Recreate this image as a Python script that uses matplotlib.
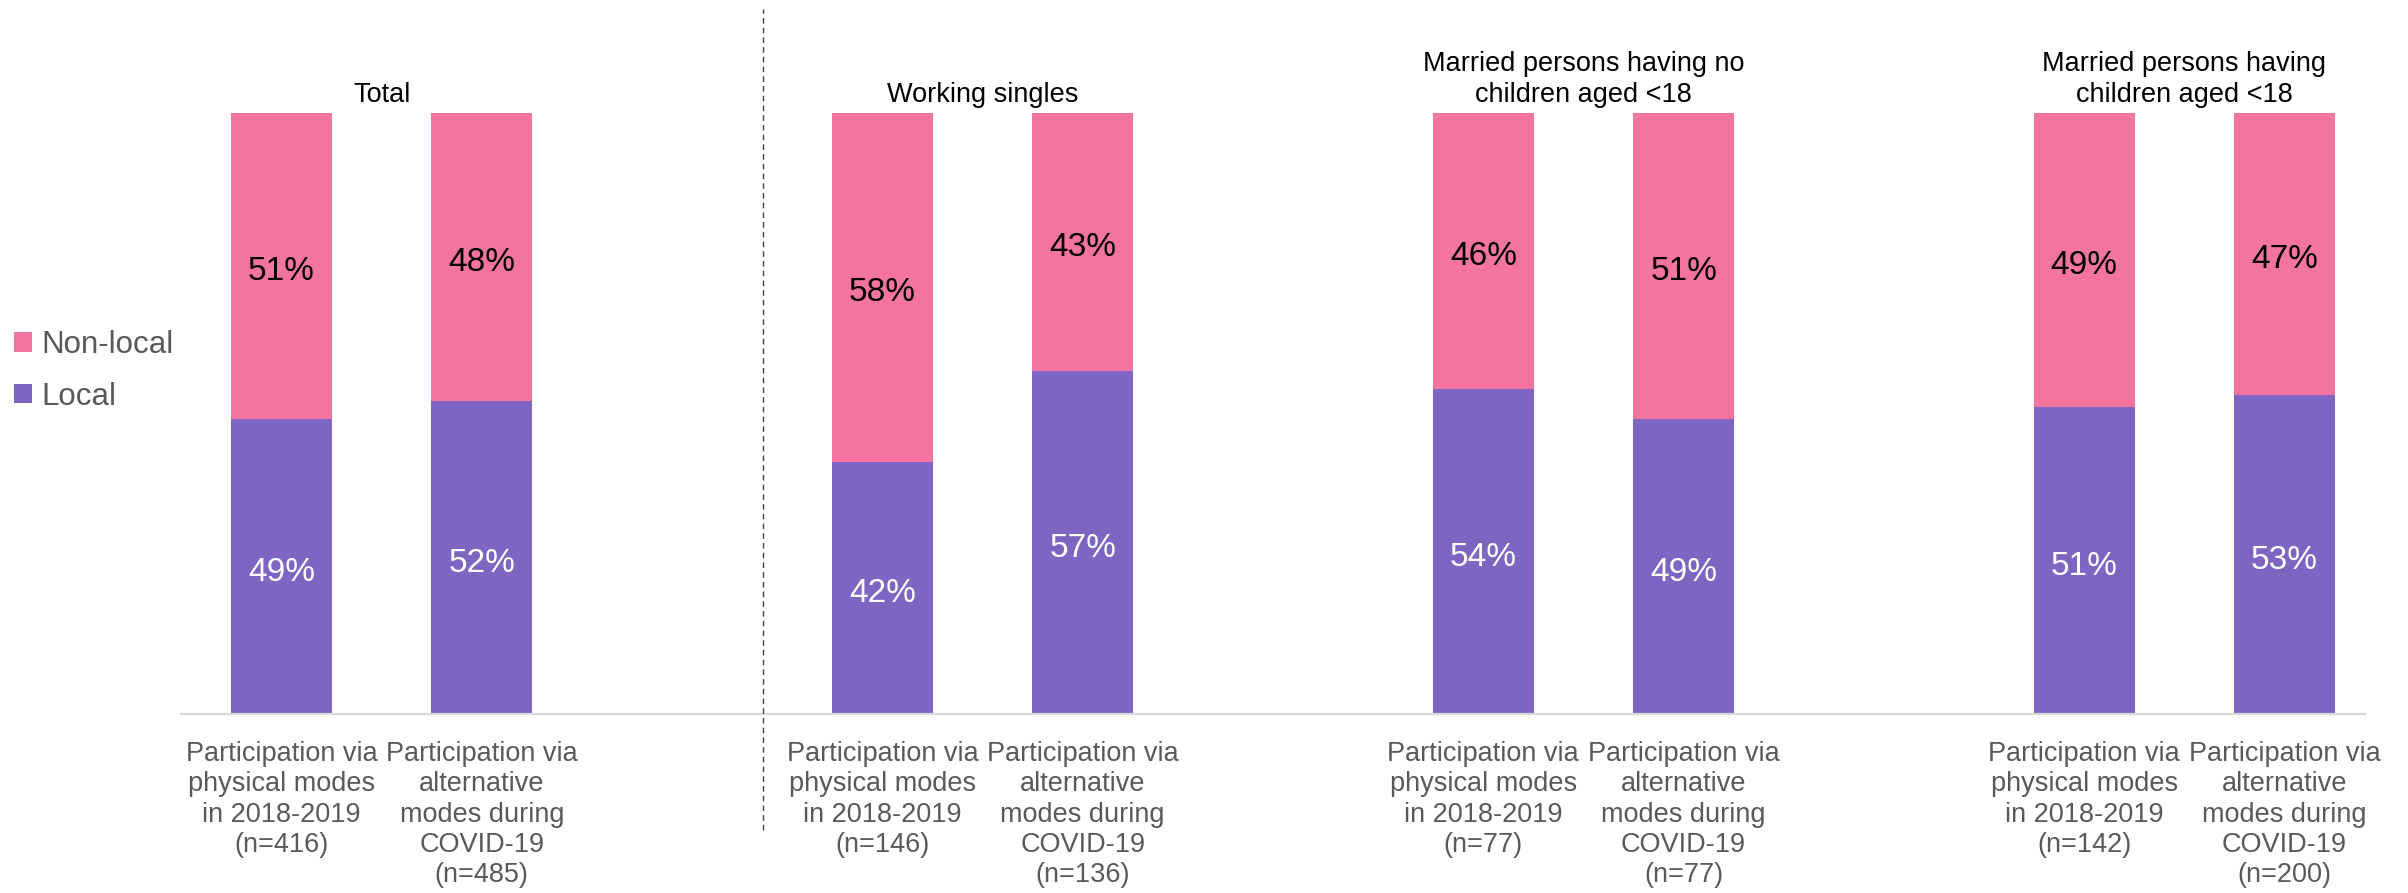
import numpy as np
from matplotlib import pyplot as plt
from matplotlib.lines import Line2D

plt.rcParams['font.family'] = ['Liberation Sans', 'DejaVu Sans']

# groups and bars
groups = ["Total", "Working singles",
          "Married persons having no\nchildren aged <18",
          "Married persons having\nchildren aged <18"]
n_physical = [416, 146, 77, 142]
n_alternative = [485, 136, 77, 200]

local = [49, 52, 42, 57, 54, 49, 51, 53]          # % local, per bar
nonlocal_ = [51, 48, 58, 43, 46, 51, 49, 47]      # % non-local, per bar

pink = "#F374A1"
purple = "#7E65C1"
gray_txt = "#595959"

labels = []
for a, b in zip(n_physical, n_alternative):
    labels.append("Participation via\nphysical modes\nin 2018-2019\n(n={})".format(a))
    labels.append("Participation via\nalternative\nmodes during\nCOVID-19\n(n={})".format(b))

# two bars per group, one empty slot between groups
xpos = np.array([g * 3 + b for g in range(len(groups)) for b in range(2)])

fig = plt.figure(figsize=(24.08, 8.93), dpi=100)
ax = fig.add_axes([0.0753, 0.2, 0.9067, 0.674])

w = 0.505
b1 = ax.bar(xpos, local, w, color=purple, label="Local")
b2 = ax.bar(xpos, nonlocal_, w, bottom=local, color=pink, label="Non-local")

anns = ax.bar_label(b1, labels=["{}%".format(v) for v in local], label_type="center",
                    color="white", fontsize=24)
anns += ax.bar_label(b2, labels=["{}%".format(v) for v in nonlocal_], label_type="center",
                     color="black", fontsize=24)
for a in anns:
    a.xyann = (0, -4)

# group titles above bars
for g, title in enumerate(groups):
    ax.annotate(title, (g * 3 + 0.5, 100), xytext=(0, 3), textcoords="offset points",
                ha="center", va="bottom", fontsize=19.5, color="black",
                linespacing=1.28, annotation_clip=False)

ax.set_xlim(-0.5, 10.4)
ax.set_ylim(0, 100)
ax.set_xticks(xpos)
ax.set_xticklabels(labels, fontsize=19.5, color=gray_txt, linespacing=1.22)
ax.tick_params(axis="x", length=0, pad=19)
ax.set_yticks([])
for s in ["top", "right", "left"]:
    ax.spines[s].set_visible(False)
ax.spines["bottom"].set_color("#D9D9D9")
ax.spines["bottom"].set_linewidth(1.6)

# dashed separator after "Total"
fig.add_artist(Line2D([0.317, 0.317], [0.07, 0.99], transform=fig.transFigure,
                      color="#404040", linewidth=1.0, linestyle=(0, (4, 3))))

handles, lbls = ax.get_legend_handles_labels()
leg = fig.legend(handles[::-1], lbls[::-1], loc="center left",
                 bbox_to_anchor=(-0.006, 0.585), frameon=False, fontsize=22.5,
                 handlelength=0.6, handleheight=0.6, handletextpad=0.3,
                 labelspacing=0.7)
for t in leg.get_texts():
    t.set_color(gray_txt)

plt.savefig("out.png", dpi=100)
